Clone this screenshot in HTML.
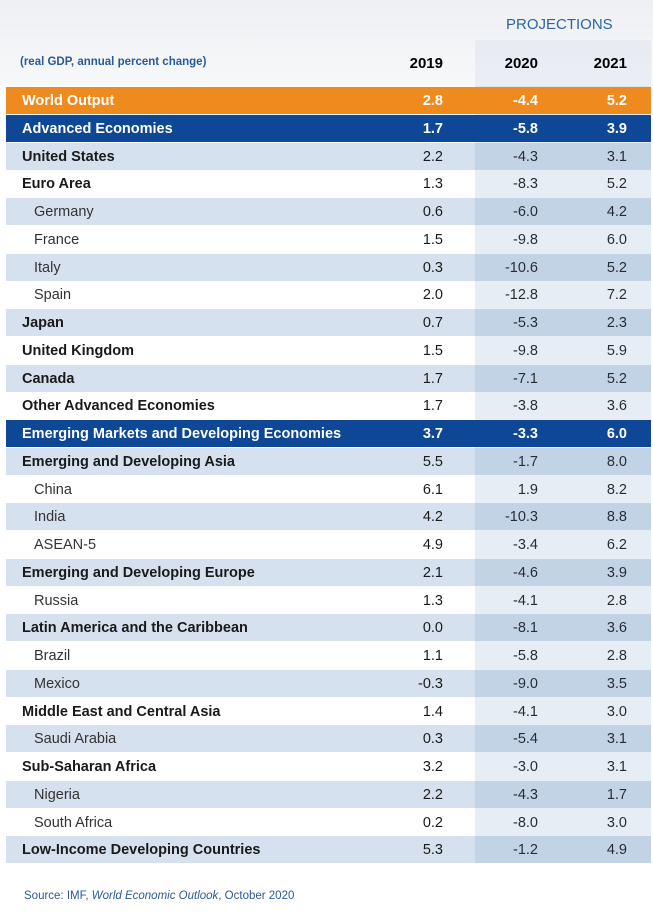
<!DOCTYPE html>
<html><head><meta charset="utf-8"><style>
body{margin:0;width:653px;height:914px;background:#fff;font-family:"Liberation Sans",sans-serif;position:relative;overflow:hidden}
.hdr{position:absolute;left:0;top:0;width:653px;height:86px;background:linear-gradient(#eef0f3,#f7f8fa)}
.row{position:absolute;left:6px;width:645px;height:27px;font-size:14.5px;color:#1a1a1a}
.row span{position:absolute;top:6px;line-height:17px}
.lbl{left:16px}.ind{left:28px;color:#333}
.b{font-weight:bold}
.c1{right:208px}.c2{right:113px}.c3{right:24px}
.proj{position:absolute;left:475px;width:176px;top:86px;height:777px;background:rgba(100,140,195,0.16)}
</style></head><body>
<div class="hdr"></div>
<div style="position:absolute;left:475px;top:40px;width:176px;height:47px;background:rgba(100,140,195,0.08)"></div>
<div style="position:absolute;left:506px;top:16px;font-size:15px;color:#2b64a8">PROJECTIONS</div>
<div style="position:absolute;left:20px;top:56px;font-size:11.5px;color:#2b5a99;font-weight:bold">(real GDP, annual percent change)</div>
<div style="position:absolute;right:210px;top:55px;font-size:15px;font-weight:bold">2019</div>
<div style="position:absolute;right:115px;top:55px;font-size:15px;font-weight:bold">2020</div>
<div style="position:absolute;right:26px;top:55px;font-size:15px;font-weight:bold">2021</div>
<div id="rows"></div>
<div class="proj"></div>
<div style="position:absolute;left:24px;top:890px;font-size:11.5px;color:#2b5a99">Source: IMF, <i>World Economic Outlook</i>, October 2020</div>
<script>
const names=["World Output","Advanced Economies","United States","Euro Area","Germany","France","Italy","Spain","Japan","United Kingdom","Canada","Other Advanced Economies","Emerging Markets and Developing Economies","Emerging and Developing Asia","China","India","ASEAN-5","Emerging and Developing Europe","Russia","Latin America and the Caribbean","Brazil","Mexico","Middle East and Central Asia","Saudi Arabia","Sub-Saharan Africa","Nigeria","South Africa","Low-Income Developing Countries"];
const v2019=["2.8","1.7","2.2","1.3","0.6","1.5","0.3","2.0","0.7","1.5","1.7","1.7","3.7","5.5","6.1","4.2","4.9","2.1","1.3","0.0","1.1","-0.3","1.4","0.3","3.2","2.2","0.2","5.3"];
const v2020=["-4.4","-5.8","-4.3","-8.3","-6.0","-9.8","-10.6","-12.8","-5.3","-9.8","-7.1","-3.8","-3.3","-1.7","1.9","-10.3","-3.4","-4.6","-4.1","-8.1","-5.8","-9.0","-4.1","-5.4","-3.0","-4.3","-8.0","-1.2"];
const v2021=["5.2","3.9","3.1","5.2","4.2","6.0","5.2","7.2","2.3","5.9","5.2","3.6","6.0","8.0","8.2","8.8","6.2","3.9","2.8","3.6","2.8","3.5","3.0","3.1","3.1","1.7","3.0","4.9"];
const indent=[0,0,0,0,1,1,1,1,0,0,0,0,0,0,1,1,1,0,1,0,1,1,0,1,0,1,1,0];
const top0=87,rh=27.75;
const box=document.getElementById('rows');
names.forEach((n,i)=>{
 const r=document.createElement('div');
 r.className='row';
 
 
 r.style.top=(top0+i*rh)+'px';
 let bg='#fff',col='#1a1a1a',bold=!indent[i];
 if(i==0){bg='#ef8a1e';col='#fff';}
 else if(i==1||i==12){bg='#0e4795';col='#fff';}
 else if((i<12&&i%2==0)||(i>12&&i%2==1)){bg='#d5e1ee';}
 r.style.background=bg;r.style.color=col;
 const b=bold?' b':'';
 const hb=(i<2||i==12)?' b':'';
 r.innerHTML=`<span class="${indent[i]?'ind':'lbl'}${b}">${n}</span><span class="c1${hb}">${v2019[i]}</span><span class="c2${hb}">${v2020[i]}</span><span class="c3${hb}">${v2021[i]}</span>`;
 if(i==0||i==1||i==12) r.style.zIndex=2;
 box.appendChild(r);
});
</script>
</body></html>
